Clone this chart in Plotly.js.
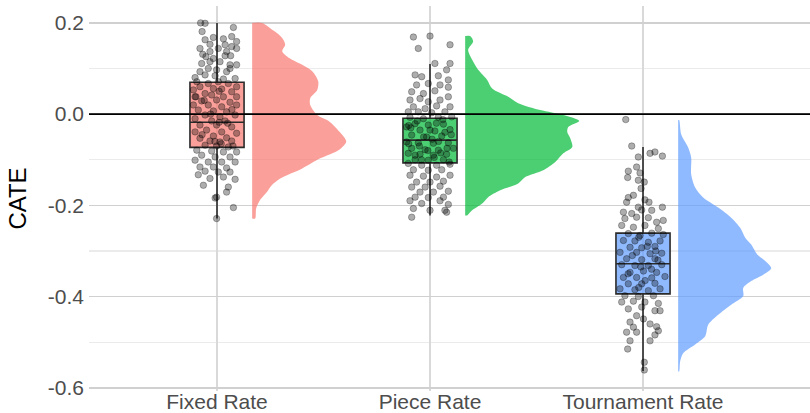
<!DOCTYPE html>
<html>
<head>
<meta charset="utf-8">
<script src="https://cdn.plot.ly/plotly-3.0.1.min.js"></script>
<style>html,body{margin:0;padding:0;background:#fff;}#chart{width:810px;height:413px;}</style>
</head>
<body>
<div id="chart"></div>
<script>
// ---------------- data ----------------
const categories = ["Fixed Rate", "Piece Rate", "Tournament Rate"];
const groupColors = ["248,118,109", "0,186,56", "97,156,255"];

// box statistics
const boxQ1 = [-0.073, -0.107, -0.394];
const boxMedian = [-0.018, -0.057, -0.328];
const boxQ3 = [0.070, -0.009, -0.261];
const boxLower = [-0.229, -0.222, -0.563];
const boxUpper = [0.200, 0.110, -0.072];

// half-violin density profiles (value, relative width)
const fixedDensY = [0.200,0.182,0.167,0.152,0.138,0.123,0.108,0.094,0.072,0.053,0.035,0.020,-0.002,-0.016,-0.038,-0.060,-0.078,-0.097,-0.119,-0.141,-0.155,-0.170,-0.188,-0.207,-0.229];
const fixedDensW = [0.10,0.22,0.30,0.33,0.30,0.37,0.50,0.60,0.66,0.65,0.58,0.58,0.65,0.77,0.87,0.94,0.87,0.68,0.50,0.28,0.20,0.15,0.08,0.04,0.03];
const pieceDensY = [0.171,0.159,0.141,0.119,0.097,0.075,0.056,0.038,0.024,0.009,-0.002,-0.015,-0.028,-0.039,-0.053,-0.072,-0.086,-0.105,-0.123,-0.138,-0.152,-0.167,-0.182,-0.196,-0.211,-0.222];
const pieceDensW = [0.05,0.08,0.03,0.07,0.13,0.22,0.27,0.43,0.53,0.75,0.98,1.14,1.03,1.02,1.05,1.07,0.98,0.90,0.78,0.60,0.53,0.35,0.23,0.17,0.07,0.02];
const tournDensY = [-0.013,-0.044,-0.073,-0.095,-0.132,-0.161,-0.183,-0.205,-0.227,-0.249,-0.271,-0.286,-0.308,-0.322,-0.338,-0.352,-0.366,-0.381,-0.399,-0.418,-0.440,-0.462,-0.487,-0.505,-0.524,-0.542,-0.564];
const tournDensW = [0.01,0.03,0.10,0.13,0.13,0.17,0.25,0.40,0.53,0.62,0.67,0.73,0.79,0.87,0.93,0.85,0.73,0.65,0.65,0.53,0.40,0.30,0.27,0.17,0.05,0.02,0.01];

// individual CATE estimates and their horizontal jitter
const fixedCATE = [0.200,0.199,0.190,0.181,0.168,0.165,0.170,0.159,0.163,0.153,0.152,0.144,0.148,0.144,0.131,0.126,0.128,0.128,0.122,0.111,0.115,0.115,0.108,0.108,0.100,0.097,0.093,0.093,0.100,0.080,0.086,0.084,0.077,0.078,0.071,0.067,0.071,0.067,0.060,0.060,0.053,0.056,0.055,0.049,0.045,0.038,0.042,0.038,0.038,0.029,0.031,0.026,0.020,0.020,0.016,0.020,0.009,0.007,0.005,-0.002,-0.006,-0.002,-0.010,-0.015,-0.015,-0.024,-0.024,-0.028,-0.035,-0.039,-0.039,-0.042,-0.048,-0.052,-0.053,-0.059,-0.061,-0.059,-0.068,-0.070,-0.072,-0.079,-0.081,-0.083,-0.083,-0.090,-0.094,-0.094,-0.101,-0.105,-0.105,-0.105,-0.116,-0.116,-0.118,-0.125,-0.127,-0.127,-0.133,-0.138,-0.141,-0.143,-0.156,-0.160,-0.171,-0.184,-0.182,-0.205,-0.229,0.038,0.144,0.137,0.137,0.000,-0.020,-0.018,-0.065,-0.070,0.050,0.030,-0.045,0.010,-0.060];
const fixedJitter = [-0.077,-0.056,0.077,-0.070,-0.017,0.030,0.069,0.092,-0.056,-0.033,0.038,0.092,0.069,0.006,-0.067,-0.052,0.038,0.064,-0.017,-0.072,-0.033,0.014,0.061,0.092,-0.041,-0.002,-0.080,0.045,0.061,-0.103,-0.056,-0.009,0.030,0.085,-0.095,-0.041,0.006,0.053,-0.080,0.092,-0.111,-0.017,0.022,0.069,-0.056,-0.099,-0.025,0.030,0.092,-0.072,-0.002,0.061,-0.111,-0.041,0.022,0.092,-0.088,-0.017,0.045,-0.056,0.014,0.085,-0.103,-0.025,0.038,-0.080,-0.002,0.069,-0.049,0.022,-0.103,0.092,-0.017,0.045,-0.080,-0.033,0.014,0.069,-0.056,-0.002,0.053,-0.095,-0.025,0.030,0.092,-0.072,-0.009,0.061,-0.103,-0.041,0.022,0.085,-0.080,-0.017,0.045,-0.056,0.006,0.061,-0.088,0.030,-0.033,0.085,-0.064,0.053,0.045,-0.009,-0.002,0.077,-0.002,-0.103,-0.080,0.045,-0.033,-0.030,0.050,0.010,0.020,0.075,0.010,-0.060,-0.070,0.070,-0.010];

const pieceCATE = [0.169,0.171,0.144,0.152,0.111,0.111,0.097,0.086,0.082,0.084,0.075,0.064,0.067,0.064,0.059,0.049,0.045,0.051,0.034,0.031,0.038,0.031,0.027,0.016,0.012,0.018,0.016,0.005,0.003,0.005,0.005,-0.007,-0.010,-0.007,-0.006,-0.021,-0.024,-0.022,-0.028,-0.035,-0.037,-0.034,-0.046,-0.050,-0.048,-0.061,-0.063,-0.064,-0.063,-0.075,-0.078,-0.079,-0.075,-0.086,-0.088,-0.090,-0.088,-0.100,-0.101,-0.100,-0.108,-0.112,-0.112,-0.110,-0.122,-0.123,-0.122,-0.134,-0.136,-0.138,-0.134,-0.149,-0.149,-0.147,-0.160,-0.160,-0.158,-0.171,-0.171,-0.169,-0.182,-0.183,-0.182,-0.190,-0.190,-0.196,-0.198,-0.207,-0.211,-0.211,-0.226,-0.215,-0.015,-0.020,-0.030,-0.040,-0.050,-0.055,-0.060,-0.070,-0.075,-0.080,-0.085,-0.090,-0.095,-0.100,-0.105,-0.045,-0.025,-0.065,-0.035,-0.012];
const pieceJitter = [-0.078,0.000,-0.055,0.094,0.023,0.094,0.078,-0.070,-0.039,0.039,0.086,-0.063,-0.008,0.047,0.086,-0.086,-0.031,0.023,-0.047,0.047,0.086,-0.094,-0.008,-0.078,-0.023,0.031,0.094,-0.055,0.008,0.070,-0.102,-0.094,-0.031,0.039,0.102,-0.070,-0.008,0.063,-0.110,-0.047,0.023,0.094,-0.086,-0.016,0.055,-0.110,-0.055,0.016,0.086,-0.086,-0.023,0.039,0.110,-0.102,-0.047,0.016,0.078,-0.070,-0.008,0.063,-0.102,-0.039,0.031,0.094,-0.078,-0.008,0.055,-0.094,-0.031,0.031,0.094,-0.063,0.000,0.063,-0.086,-0.023,0.047,-0.047,0.016,0.086,-0.070,-0.008,0.063,-0.094,0.047,-0.039,0.086,-0.078,0.000,0.070,-0.086,0.078,-0.060,0.030,-0.090,0.070,-0.030,0.010,0.040,-0.050,0.080,-0.010,0.050,-0.070,0.020,-0.040,0.090,0.100,-0.100,-0.100,0.000,0.060];

const tournCATE = [-0.012,-0.070,-0.094,-0.086,-0.083,-0.092,-0.116,-0.125,-0.129,-0.139,-0.145,-0.149,-0.163,-0.178,-0.183,-0.193,-0.188,-0.193,-0.204,-0.204,-0.215,-0.218,-0.210,-0.211,-0.229,-0.226,-0.227,-0.233,-0.237,-0.244,-0.248,-0.244,-0.251,-0.262,-0.266,-0.261,-0.264,-0.277,-0.278,-0.281,-0.278,-0.292,-0.293,-0.290,-0.303,-0.303,-0.306,-0.305,-0.317,-0.319,-0.317,-0.330,-0.332,-0.332,-0.330,-0.347,-0.344,-0.347,-0.358,-0.358,-0.359,-0.356,-0.372,-0.372,-0.371,-0.383,-0.385,-0.387,-0.383,-0.398,-0.400,-0.398,-0.412,-0.410,-0.412,-0.415,-0.427,-0.423,-0.431,-0.431,-0.442,-0.449,-0.456,-0.460,-0.467,-0.466,-0.478,-0.478,-0.484,-0.497,-0.497,-0.475,-0.515,-0.544,-0.561,-0.270,-0.290,-0.310,-0.320,-0.335,-0.340,-0.350,-0.365,-0.380,-0.300];
const tournJitter = [-0.081,-0.053,-0.022,0.033,0.056,0.091,-0.030,-0.069,-0.014,-0.072,-0.022,0.006,-0.009,-0.045,-0.069,-0.077,0.009,0.028,-0.022,0.091,-0.092,-0.053,-0.006,0.041,-0.085,-0.030,0.025,0.095,0.064,-0.100,-0.045,0.009,0.072,-0.069,-0.014,0.041,0.095,-0.092,-0.038,0.025,0.080,-0.061,-0.006,0.056,-0.108,-0.030,0.033,0.088,-0.077,-0.006,0.056,-0.100,-0.038,0.025,0.088,-0.061,0.002,0.064,-0.092,-0.030,0.041,0.103,-0.069,-0.006,0.056,-0.108,-0.038,0.025,0.080,-0.085,-0.022,0.049,-0.100,-0.045,0.009,0.072,-0.069,-0.006,0.056,0.080,-0.030,0.002,-0.061,0.033,-0.045,0.064,-0.077,-0.030,0.056,-0.061,0.033,0.072,-0.072,0.006,0.006,-0.020,0.020,-0.050,0.070,-0.010,0.040,-0.070,0.010,-0.020,0.060];

const yTickVals = [0.2, 0.0, -0.2, -0.4, -0.6];
const yTickText = ["0.2", "0.0", "-0.2", "-0.4", "-0.6"];
const yMinorVals = [0.1, -0.1, -0.3, -0.5];

// ---------------- build traces ----------------
const violinOffset = 0.165;   // gap between category centre and violin base (category units)
const violinScale = 0.47;     // relative width -> category units
const densY = [fixedDensY, pieceDensY, tournDensY];
const densW = [fixedDensW, pieceDensW, tournDensW];
const pts = [fixedCATE, pieceCATE, tournCATE];
const jit = [fixedJitter, pieceJitter, tournJitter];

const traces = [];
categories.forEach((c, i) => {
  const base = (i + 1) + violinOffset;
  const ys = densY[i], ws = densW[i];
  const vx = [base], vy = [ys[0]];
  ys.forEach((y, k) => { vx.push(base + ws[k] * violinScale); vy.push(y); });
  vx.push(base); vy.push(ys[ys.length - 1]);
  traces.push({
    type: 'scatter', mode: 'lines', x: vx, y: vy,
    fill: 'toself', fillcolor: 'rgba(' + groupColors[i] + ',0.7)',
    line: {width: 0, shape: 'spline', smoothing: 0.8, color: 'rgba(0,0,0,0)'},
    hoverinfo: 'skip', showlegend: false
  });
});
categories.forEach((c, i) => {
  traces.push({
    type: 'box', x: [i + 1],
    q1: [boxQ1[i]], median: [boxMedian[i]], q3: [boxQ3[i]],
    lowerfence: [boxLower[i]], upperfence: [boxUpper[i]],
    width: 0.254, whiskerwidth: 0, boxpoints: false,
    fillcolor: 'rgba(' + groupColors[i] + ',0.7)',
    line: {color: '#2b2b2b', width: 1.6},
    showlegend: false
  });
});
categories.forEach((c, i) => {
  traces.push({
    type: 'scatter', mode: 'markers',
    x: jit[i].map(j => (i + 1) + j), y: pts[i],
    marker: {size: 6.5, color: 'rgba(0,0,0,0.32)', line: {width: 0.7, color: 'rgba(0,0,0,0.4)'}},
    showlegend: false, hoverinfo: 'y'
  });
});

const layout = {
  width: 810, height: 413,
  margin: {l: 89, r: 0, t: 6, b: 22, pad: 0},
  paper_bgcolor: '#ffffff', plot_bgcolor: '#ffffff',
  font: {family: '"Liberation Sans", Arial, sans-serif', color: '#4d4d4d'},
  showlegend: false,
  xaxis: {
    range: [0.399, 3.784], tickmode: 'array', tickvals: [1, 2, 3], ticktext: categories,
    showgrid: true, gridcolor: '#d9d9d9', gridwidth: 1.4,
    zeroline: false, showline: false, ticks: '', ticklabelstandoff: -4,
    tickfont: {size: 21, color: '#4d4d4d'}
  },
  yaxis: {
    range: [-0.607, 0.237], tickmode: 'array', tickvals: yTickVals, ticktext: yTickText,
    showgrid: true, gridcolor: '#d0d0d0', gridwidth: 1.4,
    minor: {tickmode: 'array', tickvals: yMinorVals, showgrid: true, gridcolor: '#ebebeb', gridwidth: 1.1, ticks: ''},
    zeroline: false, showline: false, ticks: '', ticklabelstandoff: 4,
    tickfont: {size: 21, color: '#4d4d4d'},
    title: {text: 'CATE', font: {size: 24, color: '#000000'}, standoff: 14}
  },
  shapes: [{type: 'line', xref: 'paper', x0: 0, x1: 1, yref: 'y', y0: 0, y1: 0,
            line: {color: '#000000', width: 1.6}, layer: 'above'}]
};

Plotly.newPlot('chart', traces, layout, {displayModeBar: false, staticPlot: true});
</script>
</body>
</html>
